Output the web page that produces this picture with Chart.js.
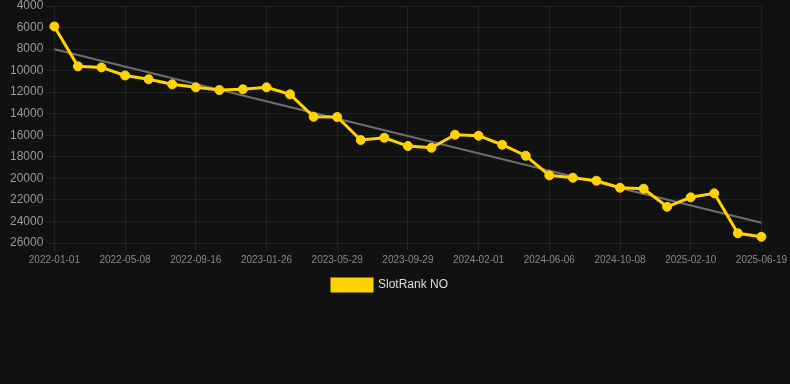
<!DOCTYPE html>
<html>
<head>
<meta charset="utf-8">
<script src="https://cdn.jsdelivr.net/npm/chart.js@4"></script>
<style>
html,body{margin:0;padding:0;background:#111111;}
#wrap{width:790px;height:301px;}
</style>
</head>
<body>
<div id="wrap"><canvas id="c" width="790" height="301"></canvas></div>
<script>
const dates = [
 "2022-01-01","2022-02-12","2022-03-26","2022-05-08","2022-06-21","2022-08-03",
 "2022-09-16","2022-10-30","2022-12-13","2023-01-26","2023-03-09","2023-04-19",
 "2023-05-29","2023-07-10","2023-08-20","2023-09-29","2023-11-10","2023-12-22",
 "2024-02-01","2024-03-14","2024-04-25","2024-06-06","2024-07-18","2024-08-28",
 "2024-10-08","2024-11-19","2024-12-31","2025-02-10","2025-03-25","2025-05-07",
 "2025-06-19"
];
const rankValues = [
 5900, 9600, 9700, 10450, 10800, 11270,
 11550, 11800, 11730, 11550, 12200, 14280,
 14300, 16440, 16230, 17000, 17160, 15950,
 16040, 16880, 17900, 19720, 19940, 20220,
 20870, 20960, 22640, 21760, 21390, 25100,
 25420
];
const trendStart = 8020;
const trendEnd = 24120;
const yTicks = [4000, 26000, 2000];

const trendData = dates.map((d, i) => i === 0 ? trendStart : (i === dates.length - 1 ? trendEnd : null));
const gridColor = 'rgba(255,255,255,0.07)';
const fontFam = 'Arial, "Liberation Sans", sans-serif';

new Chart(document.getElementById('c'), {
  type: 'line',
  data: {
    labels: dates,
    datasets: [
      {
        label: 'SlotRank NO',
        data: rankValues,
        borderColor: '#FFD200',
        backgroundColor: '#FFD200',
        borderWidth: 3,
        pointRadius: 4.5,
        pointBorderWidth: 1,
        pointHoverRadius: 5,
        pointBackgroundColor: '#FFD200',
        pointBorderColor: '#FFD200',
        tension: 0,
        order: 1
      },
      {
        label: 'trend',
        data: trendData,
        borderColor: '#6e6e6e',
        borderWidth: 2,
        pointRadius: 0,
        spanGaps: true,
        fill: false,
        order: 2
      }
    ]
  },
  options: {
    responsive: false,
    animation: false,
    layout: { padding: { left: 7, right: 17, top: 0, bottom: 0 } },
    plugins: {
      legend: {
        position: 'bottom',
        labels: {
          color: '#dddddd',
          font: { family: fontFam, size: 12 },
          boxWidth: 40,
          boxHeight: 12,
          filter: (item) => item.text !== 'trend'
        }
      },
      tooltip: { enabled: false }
    },
    scales: {
      x: {
        grid: {
          color: (ctx) => (ctx.index % 3 === 0 ? gridColor : 'transparent'),
          drawTicks: true,
          tickLength: 8
        },
        border: { display: false },
        ticks: {
          autoSkip: false,
          maxRotation: 0,
          minRotation: 0,
          color: '#888888',
          font: { family: fontFam, size: 10 },
          callback: function(v, i) { return i % 3 === 0 ? this.getLabelForValue(v) : ''; }
        }
      },
      y: {
        reverse: true,
        min: yTicks[0],
        max: yTicks[1],
        afterFit: (s) => { s.paddingTop = 6; },
        grid: { color: gridColor, drawTicks: true, tickLength: 8 },
        border: { display: false },
        ticks: {
          stepSize: yTicks[2],
          color: '#999999',
          font: { family: fontFam, size: 12 },
          callback: (v) => String(v)
        }
      }
    }
  }
});
</script>
</body>
</html>
